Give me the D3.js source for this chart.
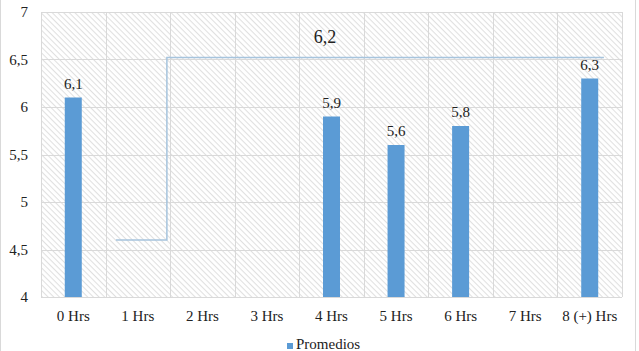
<!DOCTYPE html>
<html>
<head>
<meta charset="utf-8">
<script src="https://cdn.jsdelivr.net/npm/d3@7"></script>
<style>
  body { margin: 0; background: #fff; }
</style>
</head>
<body>
<div id="graph_container"></div>
<script>
var categories = ["0 Hrs", "1 Hrs", "2 Hrs", "3 Hrs", "4 Hrs", "5 Hrs", "6 Hrs", "7 Hrs", "8 (+) Hrs"];
var promedios = [6.1, null, null, null, 5.9, 5.6, 5.8, null, 6.3];
var yTicks = [4, 4.5, 5, 5.5, 6, 6.5, 7];
// step line drawn over the bars (x in category units, y in values)
var lineX = [1.16, 1.95, 1.95, 8.72];
var lineY = [4.6, 4.6, 6.52, 6.52];
var lineLabel = "6,2";
var seriesName = "Promedios";

var W = 639, H = 351;
var margin = {top: 12, right: 17, bottom: 54, left: 41},
    w = W - margin.left - margin.right,
    h = H - margin.top - margin.bottom;

var fmt = function(v) { return String(v).replace(".", ","); };

var svg = d3.select("#graph_container").append("svg")
    .attr("width", W)
    .attr("height", H)
    .attr("font-family", "'Liberation Serif', 'Times New Roman', serif")
    .attr("fill", "#222");

// outer chart border
svg.append("rect")
    .attr("x", 0.5).attr("y", -1)
    .attr("width", 635).attr("height", H + 2)
    .attr("fill", "none")
    .attr("stroke", "#d9d9d9");

var defs = svg.append("defs");
var pat = defs.append("pattern")
    .attr("id", "hatch")
    .attr("patternUnits", "userSpaceOnUse")
    .attr("width", 4).attr("height", 4)
    .attr("patternTransform", "rotate(45)");
pat.append("rect").attr("width", 4).attr("height", 4).attr("fill", "#fff");
pat.append("line")
    .attr("x1", 0).attr("y1", 0.5).attr("x2", 4).attr("y2", 0.5)
    .attr("stroke", "#e0e0e0").attr("stroke-width", 1.1);

var g = svg.append("g")
    .attr("transform", "translate(" + margin.left + "," + margin.top + ")");

var x = d3.scaleBand().domain(categories).range([0, w]);
var xc = d3.scaleLinear().domain([0, categories.length]).range([0, w]);
var y = d3.scaleLinear().domain([4, 7]).range([h, 0]);

g.append("rect")
    .attr("width", w).attr("height", h)
    .attr("fill", "url(#hatch)");

// horizontal gridlines
g.selectAll(".hgrid")
    .data(yTicks)
    .enter().append("line")
    .attr("x1", 0).attr("x2", w)
    .attr("y1", function(d) { return Math.round(y(d)) + 0.5; })
    .attr("y2", function(d) { return Math.round(y(d)) + 0.5; })
    .attr("stroke", "#d9d9d9");

// vertical gridlines
g.selectAll(".vgrid")
    .data(d3.range(categories.length + 1))
    .enter().append("line")
    .attr("x1", function(d) { return Math.round(xc(d)) + 0.5; })
    .attr("x2", function(d) { return Math.round(xc(d)) + 0.5; })
    .attr("y1", 0).attr("y2", h)
    .attr("stroke", "#d9d9d9");

// y labels
g.selectAll(".ylab")
    .data(yTicks)
    .enter().append("text")
    .attr("x", -13)
    .attr("y", function(d) { return y(d); })
    .attr("dy", "0.35em")
    .attr("text-anchor", "end")
    .style("font-size", "15px")
    .text(fmt);

// x labels
g.selectAll(".xlab")
    .data(categories)
    .enter().append("text")
    .attr("x", function(d) { return x(d) + x.bandwidth() / 2; })
    .attr("y", h + 24)
    .attr("text-anchor", "middle")
    .style("font-size", "15px")
    .text(function(d) { return d; });

var barData = categories.map(function(c, i) { return {c: c, v: promedios[i]}; })
    .filter(function(d) { return d.v != null; });
var bw = 17;

g.selectAll(".bar")
    .data(barData)
    .enter().append("rect")
    .attr("x", function(d) { return x(d.c) + x.bandwidth() / 2 - bw / 2; })
    .attr("y", function(d) { return y(d.v); })
    .attr("width", bw)
    .attr("height", function(d) { return h - y(d.v); })
    .attr("fill", "#5b9bd5");

g.selectAll(".val")
    .data(barData)
    .enter().append("text")
    .attr("x", function(d) { return x(d.c) + x.bandwidth() / 2; })
    .attr("y", function(d) { return y(d.v) - 9; })
    .attr("text-anchor", "middle")
    .style("font-size", "15px")
    .text(function(d) { return fmt(d.v); });

// step line
var pts = lineX.map(function(v, i) { return [xc(v), y(lineY[i])]; });
g.append("path")
    .attr("d", d3.line()(pts))
    .attr("fill", "none")
    .attr("stroke", "#a6c4dd")
    .attr("stroke-width", 1.5);

g.append("text")
    .attr("x", xc(4.4))
    .attr("y", 31)
    .attr("text-anchor", "middle")
    .style("font-size", "18px")
    .text(lineLabel);

// legend
var leg = svg.append("g").attr("transform", "translate(287,343)");
leg.append("rect")
    .attr("x", 0).attr("y", 0)
    .attr("width", 6).attr("height", 6)
    .attr("fill", "#5b9bd5");
leg.append("text")
    .attr("x", 9).attr("y", 6)
    .style("font-size", "15px")
    .text(seriesName);
</script>
</body>
</html>
